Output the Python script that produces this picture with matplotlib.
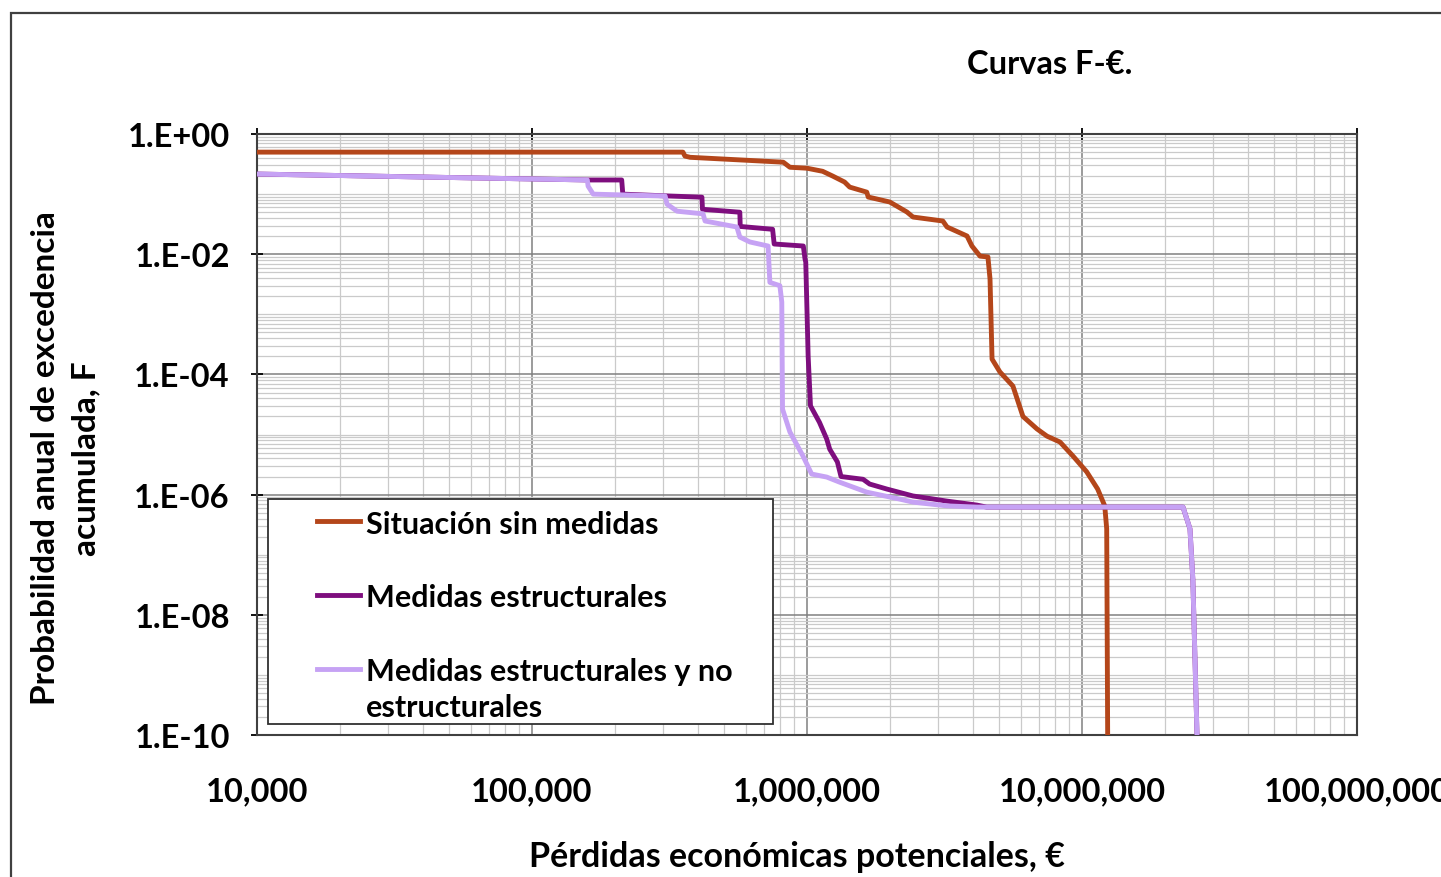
import numpy as np
import matplotlib
matplotlib.use('Agg')
import matplotlib.pyplot as plt
from matplotlib.patches import Rectangle
from matplotlib.lines import Line2D
from matplotlib.ticker import FixedLocator, LogLocator, NullFormatter

plt.rcParams['font.family'] = ['Lato', 'DejaVu Sans']
plt.rcParams['font.weight'] = 'bold'

# curves (loss in EUR, annual exceedance probability)
loss_sin = [1e4, 3.54e5, 3.6e5, 3.76e5, 8.2e5, 8.67e5, 1.0e6, 1.14e6, 1.24e6, 1.37e6,
            1.43e6, 1.65e6, 1.67e6, 2.0e6, 2.31e6, 2.43e6, 3.12e6, 3.23e6, 3.82e6, 3.98e6,
            4.26e6, 4.55e6, 4.63e6, 4.71e6, 5.03e6, 5.61e6, 6.1e6, 6.86e6, 7.46e6, 8.32e6,
            9.27e6, 1.04e7, 1.14e7, 1.21e7, 1.23e7, 1.24e7]
freq_sin = [0.50, 0.50, 0.43, 0.41, 0.34, 0.28, 0.27, 0.24, 0.20, 0.159,
            0.131, 0.108, 0.0895, 0.074, 0.0504, 0.0416, 0.0357, 0.0284, 0.0201, 0.0137,
            0.0093, 0.0090, 0.0039, 1.8e-4, 1.1e-4, 6.4e-5, 2.0e-5, 1.24e-5, 9.4e-6, 7.5e-6,
            4.4e-6, 2.4e-6, 1.24e-6, 6.5e-7, 2.7e-7, 1e-10]

loss_est = [1e4, 1.6e5, 2.12e5, 2.14e5, 3.17e5, 4.15e5, 4.17e5, 5.7e5, 5.72e5, 7.5e5,
            7.6e5, 9.7e5, 9.84e5, 9.9e5, 1.01e6, 1.03e6, 1.11e6, 1.18e6, 1.21e6, 1.29e6,
            1.33e6, 1.6e6, 1.69e6, 1.95e6, 2.43e6, 3.23e6, 4.15e6, 4.5e6, 2.33e7, 2.47e7,
            2.53e7, 2.62e7]
freq_est = [0.216, 0.172, 0.172, 0.10, 0.093, 0.089, 0.056, 0.050, 0.029, 0.026,
            0.0148, 0.0137, 0.0083, 0.0074, 2e-4, 3.0e-5, 1.6e-5, 8.4e-6, 5.7e-6, 3.5e-6,
            2.0e-6, 1.8e-6, 1.5e-6, 1.24e-6, 9.5e-7, 7.8e-7, 6.7e-7, 6.2e-7, 6.2e-7, 2.7e-7,
            3.9e-8, 1e-10]

loss_noest = [1e4, 1.59e5, 1.6e5, 1.67e5, 3.05e5, 3.1e5, 3.37e5, 4.19e5, 4.26e5, 5.56e5,
              5.7e5, 6.2e5, 7.22e5, 7.33e5, 7.97e5, 8.1e5, 8.15e5, 8.67e5, 9.67e5, 1.04e6,
              1.18e6, 1.32e6, 1.65e6, 2.18e6, 2.43e6, 3.23e6, 4.15e6, 2.33e7, 2.47e7, 2.53e7,
              2.62e7]
freq_noest = [0.216, 0.172, 0.136, 0.100, 0.093, 0.068, 0.052, 0.047, 0.0357, 0.0284,
              0.0193, 0.016, 0.0137, 0.0034, 0.0030, 0.0016, 2.65e-5, 1.1e-5, 4.4e-6, 2.2e-6,
              1.96e-6, 1.6e-6, 1.1e-6, 8.4e-7, 7.5e-7, 6.5e-7, 6.2e-7, 6.2e-7, 2.7e-7, 3.9e-8,
              1e-10]

series_names = ['Situación sin medidas', 'Medidas estructurales',
                'Medidas estructurales y no\nestructurales']
series_colors = ['#B4461A', '#7E0E7E', '#C6A2F4']

x_ticks = [1e4, 1e5, 1e6, 1e7, 1e8]
x_labels = ['10,000', '100,000', '1,000,000', '10,000,000', '100,000,000']
y_ticks = [1e0, 1e-2, 1e-4, 1e-6, 1e-8, 1e-10]
y_labels = ['1.E+00', '1.E-02', '1.E-04', '1.E-06', '1.E-08', '1.E-10']

fig = plt.figure(figsize=(14.41, 8.78), dpi=100)
ax = fig.add_axes([0.1783, 0.1617, 0.7634, 0.6845])

ax.plot(loss_sin, freq_sin, color=series_colors[0], lw=3.5, zorder=3)
ax.plot(loss_est, freq_est, color=series_colors[1], lw=3.5, zorder=4)
ax.plot(loss_noest, freq_noest, color=series_colors[2], lw=3.5, zorder=5)

ax.set_xscale('log')
ax.set_yscale('log')
ax.set_xlim(1e4, 1e8)
ax.set_ylim(1e-10, 1)

ax.xaxis.set_major_locator(FixedLocator(x_ticks))
ax.set_xticklabels(x_labels)
ax.xaxis.set_minor_locator(LogLocator(base=10, subs=np.arange(2, 10), numticks=50))
ax.xaxis.set_minor_formatter(NullFormatter())
ax.yaxis.set_major_locator(FixedLocator(y_ticks))
ax.set_yticklabels(y_labels)
ax.yaxis.set_minor_locator(LogLocator(base=10, subs=np.arange(1, 10), numticks=100))
ax.yaxis.set_minor_formatter(NullFormatter())

ax.grid(which='major', color='#808080', lw=1.1, zorder=1)
ax.grid(which='minor', color='#CACACA', lw=0.9, zorder=1)
ax.set_axisbelow(True)

ax.tick_params(axis='x', which='major', top=True, bottom=False, labelbottom=True,
               direction='inout', length=9, width=1.3, pad=25, labelsize=23.5)
ax.tick_params(axis='y', which='major', left=True, right=False, direction='inout',
               length=9, width=1.3, pad=15, labelsize=23.5)
ax.tick_params(which='minor', length=0)
for sp in ax.spines.values():
    sp.set_color('#404040')
    sp.set_linewidth(1.5)

ax.set_xlabel('Pérdidas económicas potenciales, €', fontsize=24.5, fontweight='bold', va='center')
ax.xaxis.set_label_coords(0.491, -0.201)
ax.set_ylabel('Probabilidad anual de excedencia\nacumulada, F', fontsize=24,
              fontweight='bold', va='center', linespacing=1.45)
ax.yaxis.set_label_coords(-0.174, 0.462)

ax.set_title('Curvas F-€.', fontsize=23.5, fontweight='bold', x=0.721, y=1.118,
             va='center', pad=0)

# legend drawn by hand to match the boxed Excel legend
ax.add_patch(Rectangle((0.010, 0.018), 0.459, 0.375, transform=ax.transAxes,
                       facecolor='white', edgecolor='#303030', lw=1.3, zorder=6))
legend_rows = [0.356, 0.233, 0.110]
for name, col, yy in zip(series_names, series_colors, legend_rows):
    ax.add_line(Line2D([0.0545, 0.0936], [yy, yy], transform=ax.transAxes,
                       color=col, lw=3.5, zorder=7))
    for i, line in enumerate(name.split('\n')):
        ax.text(0.099, yy - i * 0.060, line, transform=ax.transAxes, fontsize=22,
                fontweight='bold', va='center_baseline', ha='left', zorder=7)

fig.add_artist(Rectangle((11 / 1441, -0.1), 1.2, 1.084, transform=fig.transFigure,
                         fill=False, edgecolor='#404040', lw=1.6))

fig.savefig('out.png', dpi=100)
